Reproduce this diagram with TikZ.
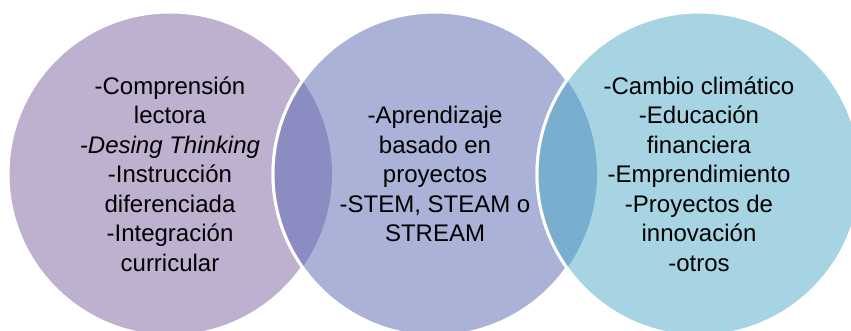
\documentclass[tikz,border=0pt]{standalone}
\usepackage{fontspec}
\setmainfont{Liberation Sans}
\definecolor{lila}{HTML}{BEB0CF}
\definecolor{azul}{HTML}{AAB2D7}
\definecolor{celeste}{HTML}{A6D4E3}
\definecolor{lente1}{HTML}{8B8DC2}
\definecolor{lente2}{HTML}{79AECF}
\begin{document}
\begin{tikzpicture}[x=1pt, y=-1pt,
  venn/.style = {draw=white, circle, line width=3pt, minimum size=324pt, inner sep=0pt},
  texto/.style = {align=center, font=\fontsize{24}{29.5}\selectfont}]
\useasboundingbox (0,0) rectangle (851,331);
\node[venn, fill=lila] (1) at (170,174) {};
\node[venn, fill=azul] (2) at (435,174) {};
\node[venn, fill=celeste] (3) at (699,174) {};
% intersecciones
\begin{scope}
\clip (2.center) circle (162pt);
\fill[lente1] (1.center) circle (162pt);
\end{scope}
\begin{scope}
\clip (1.center) circle (162pt);
\draw[white, line width=3pt] (2.center) circle (162pt);
\end{scope}
\begin{scope}
\clip (3.center) circle (162pt);
\fill[lente2] (2.center) circle (162pt);
\end{scope}
\begin{scope}
\clip (2.center) circle (162pt);
\draw[white, line width=3pt] (3.center) circle (162pt);
\end{scope}
% textos
\node[texto] (t1) at (1) {-Comprensión\\lectora\\\textit{-Desing Thinking}\\-Instrucción\\diferenciada\\-Integración\\curricular};
\node[texto] (t2) at (2) {-Aprendizaje\\basado en\\proyectos\\-STEM, STEAM o\\STREAM};
\node[texto] (t3) at (3) {-Cambio climático\\-Educación\\financiera\\-Emprendimiento\\-Proyectos de\\innovación\\-otros};
\end{tikzpicture}
\end{document}
